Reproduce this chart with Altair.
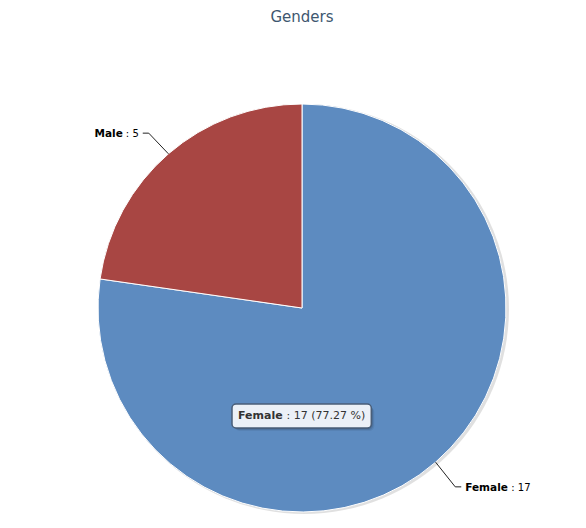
import math
import altair as alt
import pandas as pd

# ---------------- data ----------------
genders = ["Female", "Male"]
counts = [17, 5]
colors = ["#5D8BC0", "#A84643"]
title_text = "Genders"
tooltip_index = 0  # the highlighted slice (Female)

# ---------------- layout ----------------
W, H = 570, 512
CX, CY, R = 294, 300, 204
LABEL_FS = 10.5
VAL_FS = 10
TIP_FS = 11

BOLD_W = {"F": 683, "e": 678, "m": 1042, "a": 675, "l": 343, "M": 995}
NORM_W = {":": 337, " ": 318, "(": 390, ")": 390, ".": 318, "%": 950}


def text_w(s, table, fs):
    return sum(table.get(ch, 636) for ch in s) * fs / 1000.0


total = sum(counts)
pie_df = pd.DataFrame({"gender": genders, "count": counts, "order": list(range(len(genders)))})

line_rows, name_rows_l, name_rows_r, val_rows_l, val_rows_r = [], [], [], [], []
cum = 0
for i, (g, c) in enumerate(zip(genders, counts)):
    mid = (cum + c / 2) / total * 2 * math.pi
    cum += c
    s, co = math.sin(mid), math.cos(mid)
    x0, y0 = CX + R * s, CY - R * co
    x1, y1 = CX + (R + 30) * s, CY - (R + 30) * co + 2
    side = 1 if s >= 0 else -1
    x2 = x1 + 6 * side
    line_rows += [dict(g=g, k=0, px=x0, py=y0), dict(g=g, k=1, px=x1, py=y1), dict(g=g, k=2, px=x2, py=y1)]
    val = f": {c}"
    ly = y1 + 1
    gap = 3
    if side > 0:
        nx = x2 + 4
        name_rows_l.append(dict(t=g, px=nx, py=ly))
        val_rows_l.append(dict(t=val, px=nx + text_w(g, BOLD_W, LABEL_FS) + gap, py=ly))
    else:
        vx = x2 - 4
        val_rows_r.append(dict(t=val, px=vx, py=ly))
        name_rows_r.append(dict(t=g, px=vx - text_w(val, NORM_W, VAL_FS) - gap, py=ly))

lines_df = pd.DataFrame(line_rows)

X = lambda: alt.X("px:Q", scale=None, axis=None)
Y = lambda: alt.Y("py:Q", scale=None, axis=None)

shadow = alt.Chart(pd.DataFrame({"count": [total]})).mark_arc(
    outerRadius=R + 1, color="#000000", opacity=0.12
).encode(theta=alt.Theta("count:Q"), x=alt.value(CX + 2), y=alt.value(CY + 1))

pie = alt.Chart(pie_df).mark_arc(outerRadius=R, stroke="#FFFFFF", strokeWidth=1).encode(
    theta=alt.Theta("count:Q", stack=True),
    order=alt.Order("order:Q"),
    color=alt.Color("gender:N", scale=alt.Scale(domain=genders, range=colors), legend=None),
    x=alt.value(CX),
    y=alt.value(CY),
)

connectors = alt.Chart(lines_df).mark_line(color="#222222", strokeWidth=1).encode(
    x=X(), y=Y(), detail="g:N", order="k:Q"
)


def text_layer(rows, align, bold):
    return alt.Chart(pd.DataFrame(rows)).mark_text(
        align=align, baseline="middle", font="DejaVu Sans",
        fontSize=LABEL_FS if bold else VAL_FS,
        fontWeight="bold" if bold else "normal", color="#000000"
    ).encode(x=X(), y=Y(), text="t:N")


labels = [
    text_layer(name_rows_l, "left", True),
    text_layer(val_rows_l, "left", False),
    text_layer(name_rows_r, "right", True),
    text_layer(val_rows_r, "right", False),
]

# ---------------- tooltip ----------------
tg = genders[tooltip_index]
tc = counts[tooltip_index]
tip_val = f": {tc} ({tc / total * 100:.2f} %)"
TX0, TY0 = 224, 396
tip_w = 6 + text_w(tg, BOLD_W, TIP_FS) + text_w(" ", NORM_W, TIP_FS) + text_w(tip_val, NORM_W, TIP_FS) + 6
TX1, TY1 = TX0 + tip_w, TY0 + 24

tip_shadows = [
    alt.Chart(pie_df.head(1)).mark_rect(cornerRadius=5, color="#000000", opacity=op).encode(
        x=alt.value(TX0 + d), x2=alt.value(TX1 + d), y=alt.value(TY0 + d), y2=alt.value(TY1 + d)
    )
    for d, op in [(3, 0.06), (2, 0.1), (1, 0.15)]
]
tip_box = alt.Chart(pie_df.head(1)).mark_rect(
    cornerRadius=4, fill="#EBF0F7", stroke="#4A5E78", strokeWidth=1.5
).encode(x=alt.value(TX0), x2=alt.value(TX1), y=alt.value(TY0), y2=alt.value(TY1))

tip_name = alt.Chart(pd.DataFrame([dict(t=tg, px=TX0 + 6, py=(TY0 + TY1) / 2)])).mark_text(
    align="left", baseline="middle", font="DejaVu Sans", fontSize=TIP_FS, fontWeight="bold", color="#333333"
).encode(x=X(), y=Y(), text="t:N")
tip_text = alt.Chart(pd.DataFrame([dict(
    t=tip_val,
    px=TX0 + 6 + text_w(tg, BOLD_W, TIP_FS) + text_w(" ", NORM_W, TIP_FS),
    py=(TY0 + TY1) / 2,
)])).mark_text(
    align="left", baseline="middle", font="DejaVu Sans", fontSize=TIP_FS, color="#333333"
).encode(x=X(), y=Y(), text="t:N")

title = alt.Chart(pd.DataFrame([dict(t=title_text)])).mark_text(
    align="center", baseline="middle", font="DejaVu Sans", fontSize=15, color="#3E576F"
).encode(x=alt.value(CX), y=alt.value(9), text="t:N")

chart = alt.layer(
    shadow, pie, connectors, *labels, *tip_shadows, tip_box, tip_name, tip_text, title
).properties(
    width=W, height=H, autosize=alt.AutoSizeParams(type="none"), padding=0
).configure_view(strokeWidth=0)

chart.save("out.html", embed_options={"renderer": "svg", "actions": False})
